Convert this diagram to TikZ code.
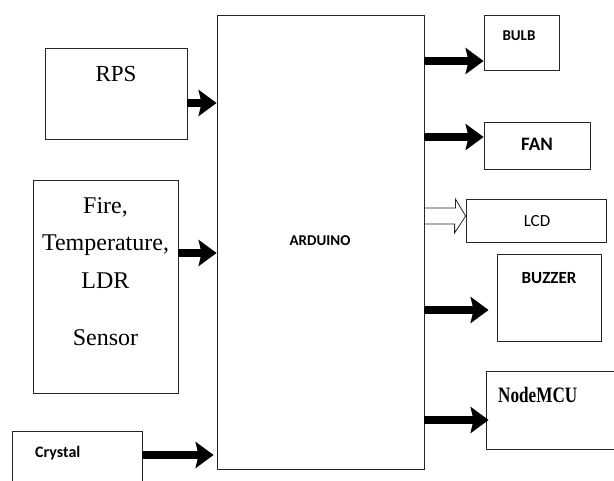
\documentclass[tikz,border=0pt]{standalone}
\usepackage{fontspec}
\setmainfont{Liberation Serif}
\newfontfamily\carl{Carlito}
\usetikzlibrary{arrows.meta,calc}
\begin{document}
\begin{tikzpicture}[x=1pt,y=-1pt,
  box/.style={draw=black!85, line width=0.8pt, inner sep=0pt, rectangle},
  txt/.style={inner sep=0pt, anchor=base},
  fat/.style={line width=8.5pt, -{Stealth[length=18pt,width=26pt,inset=3pt]}},
  hollow/.style={draw=black!85, line width=0.8pt, line join=miter}]
\useasboundingbox (0,0) rectangle (614,480);
\clip (0,0) rectangle (614,480);
% boxes
\node[box, minimum width=142pt, minimum height=91pt] (rps) at (116,93.5) {};
\node[box, minimum width=145pt, minimum height=213pt] (fire) at (105.5,286.5) {};
\node[box, minimum width=130pt, minimum height=64pt] (crys) at (77,463) {};
\node[box, minimum width=207pt, minimum height=454pt] (ard) at (320.5,242) {};
\node[box, minimum width=75pt, minimum height=55pt] (bulb) at (521.5,42.5) {};
\node[box, minimum width=106pt, minimum height=47pt] (fan) at (537,145.5) {};
\node[box, minimum width=140pt, minimum height=43pt] (lcd) at (536,220.5) {};
\node[box, minimum width=104pt, minimum height=87pt] (buz) at (549,297.5) {};
\node[box, minimum width=139pt, minimum height=78pt] (nmcu) at (555.5,410) {};
% texts
\node[txt, font={\fontsize{23}{28}\selectfont}] (rpsT) at (116,81) {RPS};
\node[txt, align=center, font={\fontsize{24}{37.5}\selectfont}] (fireT) at (105.5,345) {Fire,\\Temperature,\\LDR\\[19.5pt]Sensor};
\node[txt, font={\carl\bfseries\fontsize{15}{18}\selectfont}] (ardT) at (320,245) {ARDUINO};
\node[txt, font={\carl\bfseries\fontsize{15}{18}\selectfont}] (bulbT) at (519,40) {BULB};
\node[txt, font={\carl\bfseries\fontsize{19}{22}\selectfont}] (fanT) at (537,150) {FAN};
\node[txt, font={\carl\fontsize{17}{20}\selectfont}] (lcdT) at (537,226) {LCD};
\node[txt, font={\carl\bfseries\fontsize{17}{20}\selectfont}] (buzT) at (549,283) {BUZZER};
\node[txt, anchor=base west, font={\bfseries\fontsize{22}{26}\selectfont}] (nmcuT) at (498,402) {\scalebox{0.78}[1]{NodeMCU}};
\node[txt, anchor=base west, font={\carl\bfseries\fontsize{16}{19}\selectfont}] (crysT) at (35,457) {Crystal};
% connector heights
\coordinate (yrps) at (0,103);
\coordinate (yfire) at (0,253);
\coordinate (ycrys) at (0,455);
\coordinate (ybulb) at (0,61);
\coordinate (yfan) at (0,137);
\coordinate (ylcd) at (0,216);
\coordinate (ybuz) at (0,310);
\coordinate (ynm) at (0,420);
% input arrows
\draw[fat] (rps.east |- yrps) -- (ard.west |- yrps);
\draw[fat] (fire.east |- yfire) -- (ard.west |- yfire);
\draw[fat] (crys.east |- ycrys) -- ($(ard.west |- ycrys)+(-3,0)$);
% output arrows
\draw[fat] (ard.east |- ybulb) -- (bulb.west |- ybulb);
\draw[fat] (ard.east |- yfan) -- (fan.west |- yfan);
\draw[fat] (ard.east |- ybuz) -- ($(buz.west |- ybuz)+(-8,0)$);
\draw[fat] (ard.east |- ynm) -- ($(nmcu.west |- ynm)+(3,0)$);
% hollow arrow to LCD
\draw[hollow] ($(ard.east |- ylcd)+(0,-8)$) -- ++(31,0) -- ++(0,-9) -- (lcd.west |- ylcd) -- ++(-11,17) -- ++(0,-9) -- ($(ard.east |- ylcd)+(0,8)$);
\end{tikzpicture}
\end{document}
